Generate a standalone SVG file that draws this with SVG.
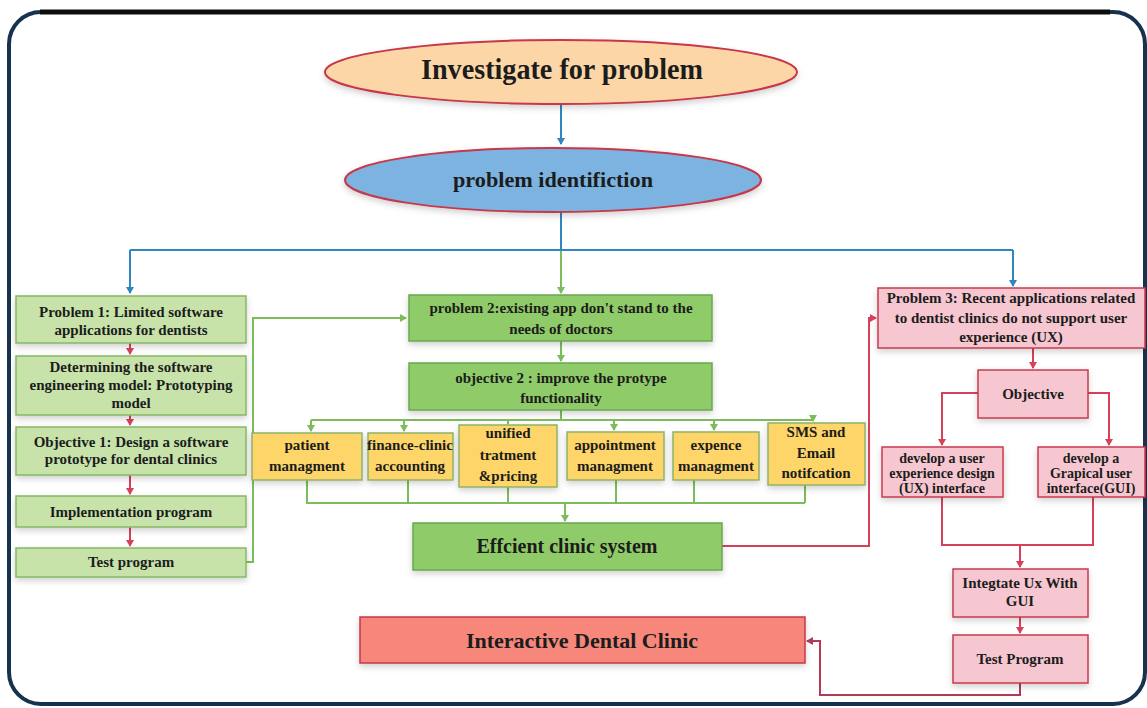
<svg xmlns="http://www.w3.org/2000/svg" width="1147" height="708" viewBox="0 0 1147 708">
<style>
text{font-family:"Liberation Serif","DejaVu Serif",serif;fill:#1c1c1c;text-anchor:middle;font-weight:bold}
.t15{font-size:15px}
.t14{font-size:14px}
.g1{fill:#c7e3aa;stroke:#86b865;stroke-width:1.5}
.g2{fill:#8fcb67;stroke:#6aa84f;stroke-width:1.5}
.y{fill:#fdd567;stroke:#8fb36a;stroke-width:1.5}
.p{fill:#f6c7d0;stroke:#c83a4e;stroke-width:1.5}
.cb{fill:none;stroke:#2f86c0;stroke-width:2}
.cg{fill:none;stroke:#7cbc5a;stroke-width:2}
.cr{fill:none;stroke:#d8405a;stroke-width:2}
.cm{fill:none;stroke:#b23a55;stroke-width:2}
</style>
<defs>
<filter id="sh" x="-10%" y="-10%" width="120%" height="140%"><feDropShadow dx="0" dy="3" stdDeviation="3" flood-color="#000" flood-opacity="0.18"/></filter>
<marker id="ab" markerWidth="8" markerHeight="8" refX="6" refY="4" orient="auto" markerUnits="userSpaceOnUse"><path d="M0,0 L7,4 L0,8 z" fill="#2f86c0"/></marker>
<marker id="ag" markerWidth="8" markerHeight="8" refX="6" refY="4" orient="auto" markerUnits="userSpaceOnUse"><path d="M0,0 L7,4 L0,8 z" fill="#7cbc5a"/></marker>
<marker id="ar" markerWidth="8" markerHeight="8" refX="6" refY="4" orient="auto" markerUnits="userSpaceOnUse"><path d="M0,0 L7,4 L0,8 z" fill="#d8405a"/></marker>
<marker id="am" markerWidth="8" markerHeight="8" refX="6" refY="4" orient="auto" markerUnits="userSpaceOnUse"><path d="M0,0 L7,4 L0,8 z" fill="#b23a55"/></marker>
</defs>
<rect x="0" y="0" width="1147" height="708" fill="#ffffff"/>
<rect id="frame" x="9" y="12" width="1136" height="692" rx="32" fill="#ffffff" stroke="#17324f" stroke-width="4"/>
<line x1="40" y1="12" x2="1110" y2="12" stroke="#0d0d0d" stroke-width="5"/>

<g id="connectors">
<line class="cb" x1="561" y1="104" x2="561" y2="144" marker-end="url(#ab)"/>
<polyline class="cb" points="561,211 561,250"/>
<polyline class="cb" points="130,250 1013,250"/>
<polyline class="cb" points="130,250 130,293" marker-end="url(#ab)"/>
<polyline class="cb" points="1013,250 1013,286" marker-end="url(#ab)"/>
<polyline class="cg" points="561,251 561,293" marker-end="url(#ag)"/>
<line class="cr" x1="130" y1="343" x2="130" y2="354" marker-end="url(#ar)"/>
<line class="cr" x1="130" y1="415" x2="130" y2="425" marker-end="url(#ar)"/>
<line class="cr" x1="130" y1="475" x2="130" y2="494" marker-end="url(#ar)"/>
<line class="cr" x1="130" y1="527" x2="130" y2="546" marker-end="url(#ar)"/>
<polyline class="cg" points="246,562 253,562 253,318 406,318" marker-end="url(#ag)"/>
<line class="cg" x1="561" y1="341" x2="561" y2="361" marker-end="url(#ag)"/>
<polyline class="cg" points="561,410 561,420"/>
<polyline class="cg" points="311,420 813,420"/>
<line class="cg" x1="311" y1="420" x2="311" y2="431" marker-end="url(#ag)"/>
<line class="cg" x1="404" y1="420" x2="404" y2="431" marker-end="url(#ag)"/>
<line class="cg" x1="508" y1="420" x2="508" y2="424"/>
<line class="cg" x1="614" y1="420" x2="614" y2="430" marker-end="url(#ag)"/>
<line class="cg" x1="714" y1="420" x2="714" y2="430" marker-end="url(#ag)"/>
<line class="cg" x1="813" y1="416" x2="813" y2="421" marker-end="url(#ag)"/>
<polyline class="cg" points="307,480 307,503 805,503"/>
<line class="cg" x1="408" y1="480" x2="408" y2="503"/>
<line class="cg" x1="508" y1="487" x2="508" y2="503"/>
<line class="cg" x1="616" y1="480" x2="616" y2="503"/>
<line class="cg" x1="694" y1="480" x2="694" y2="503"/>
<line class="cg" x1="805" y1="485" x2="805" y2="503"/>
<line class="cg" x1="565" y1="503" x2="565" y2="521" marker-end="url(#ag)"/>
<polyline class="cr" points="722,546 869,546 869,318 876,318" marker-end="url(#ar)"/>
<line class="cr" x1="1033" y1="348" x2="1033" y2="368" marker-end="url(#ar)"/>
<polyline class="cr" points="978,393 942,393 942,445" marker-end="url(#ar)"/>
<polyline class="cr" points="1088,393 1109,393 1109,445" marker-end="url(#ar)"/>
<polyline class="cr" points="942,497 942,545 1093,545 1093,497"/>
<line class="cr" x1="1020" y1="545" x2="1020" y2="567" marker-end="url(#ar)"/>
<line class="cr" x1="1020" y1="617" x2="1020" y2="633" marker-end="url(#ar)"/>
<polyline class="cm" points="1020,683 1020,695 820,695 820,641 807,641" marker-end="url(#am)"/>
</g>

<g id="investigate">
<ellipse cx="561" cy="72" rx="236" ry="32" fill="#fcd6a6" stroke="#c8374c" stroke-width="2" filter="url(#sh)"/>
<text x="562" y="79" font-size="30" textLength="282" lengthAdjust="spacingAndGlyphs">Investigate for problem</text>
</g>
<g id="identification">
<ellipse cx="553" cy="180" rx="208" ry="32" fill="#7db3e0" stroke="#c8374c" stroke-width="2" filter="url(#sh)"/>
<text x="553" y="187" font-size="22" textLength="200" lengthAdjust="spacingAndGlyphs">problem identifiction</text>
</g>

<g id="problem1">
<rect class="g1" x="16" y="296" width="230" height="47" filter="url(#sh)"/>
<text class="t15" x="131" y="317">Problem 1: Limited software</text>
<text class="t15" x="131" y="335">applications for dentists</text>
</g>
<g id="model">
<rect class="g1" x="16" y="356" width="230" height="59" filter="url(#sh)"/>
<text class="t15" x="131" y="372">Determining the software</text>
<text class="t15" x="131" y="390">engineering model: Prototyping</text>
<text class="t15" x="131" y="408">model</text>
</g>
<g id="objective1">
<rect class="g1" x="16" y="427" width="230" height="48" filter="url(#sh)"/>
<text class="t15" x="131" y="447">Objective 1: Design a software</text>
<text class="t15" x="131" y="464">prototype for dental clinics</text>
</g>
<g id="implementation">
<rect class="g1" x="16" y="496" width="230" height="31" filter="url(#sh)"/>
<text class="t15" x="131" y="517">Implementation program</text>
</g>
<g id="test1">
<rect class="g1" x="16" y="548" width="230" height="29" filter="url(#sh)"/>
<text class="t15" x="131" y="567">Test program</text>
</g>

<g id="problem2">
<rect class="g2" x="409" y="295" width="303" height="46" filter="url(#sh)"/>
<text class="t15" x="561" y="313">problem 2:existing app don't stand to the</text>
<text class="t15" x="561" y="334">needs of doctors</text>
</g>
<g id="objective2">
<rect class="g2" x="409" y="363" width="303" height="47" filter="url(#sh)"/>
<text class="t15" x="561" y="383">objective 2 : improve the protype</text>
<text class="t15" x="561" y="403">functionality</text>
</g>

<g id="patient">
<rect class="y" x="252" y="433" width="110" height="47" filter="url(#sh)"/>
<text class="t15" x="307" y="450">patient</text>
<text class="t15" x="307" y="471">managment</text>
</g>
<g id="finance">
<rect class="y" x="368" y="433" width="85" height="47" filter="url(#sh)"/>
<text class="t15" x="410" y="450">finance-clinic</text>
<text class="t15" x="410" y="471">accounting</text>
</g>
<g id="unified">
<rect class="y" x="459" y="425" width="98" height="62" filter="url(#sh)"/>
<text class="t15" x="508" y="438">unified</text>
<text class="t15" x="508" y="460">tratment</text>
<text class="t15" x="508" y="481">&amp;pricing</text>
</g>
<g id="appointment">
<rect class="y" x="567" y="432" width="97" height="48" filter="url(#sh)"/>
<text class="t15" x="615" y="450">appointment</text>
<text class="t15" x="615" y="471">managment</text>
</g>
<g id="expence">
<rect class="y" x="673" y="432" width="86" height="48" filter="url(#sh)"/>
<text class="t15" x="716" y="450">expence</text>
<text class="t15" x="716" y="471">managment</text>
</g>
<g id="sms">
<rect class="y" x="768" y="423" width="97" height="62" filter="url(#sh)"/>
<text class="t15" x="816" y="437">SMS and</text>
<text class="t15" x="816" y="458">Email</text>
<text class="t15" x="816" y="478">notifcation</text>
</g>
<g id="efficient">
<rect class="g2" x="413" y="523" width="309" height="47" filter="url(#sh)"/>
<text x="567" y="553" font-size="20">Effcient clinic system</text>
</g>

<g id="problem3">
<rect class="p" x="878" y="288" width="267" height="60" filter="url(#sh)"/>
<text class="t15" x="1011" y="303">Problem 3: Recent applications related</text>
<text class="t15" x="1011" y="323">to dentist clinics do not support user</text>
<text class="t15" x="1011" y="342">experience (UX)</text>
</g>
<g id="objective3">
<rect class="p" x="978" y="370" width="110" height="48" filter="url(#sh)"/>
<text class="t15" x="1033" y="399">Objective</text>
</g>
<g id="ux">
<rect class="p" x="882" y="447" width="121" height="50" filter="url(#sh)"/>
<text class="t14" x="942" y="463">develop a user</text>
<text class="t14" x="942" y="478">experience design</text>
<text class="t14" x="942" y="493">(UX) interface</text>
</g>
<g id="gui">
<rect class="p" x="1038" y="447" width="107" height="50" filter="url(#sh)"/>
<text class="t14" x="1091" y="463">develop a</text>
<text class="t14" x="1091" y="478">Grapical user</text>
<text class="t14" x="1091" y="493">interface(GUI)</text>
</g>
<g id="integrate">
<rect class="p" x="953" y="569" width="135" height="48" filter="url(#sh)"/>
<text class="t15" x="1020" y="588">Integtate  Ux With</text>
<text class="t15" x="1020" y="606">GUI</text>
</g>
<g id="test3">
<rect class="p" x="953" y="635" width="135" height="48" filter="url(#sh)"/>
<text class="t15" x="1020" y="664">Test Program</text>
</g>
<g id="dental">
<rect x="360" y="617" width="445" height="46" fill="#f7877a" stroke="#c8374c" stroke-width="1.5" filter="url(#sh)"/>
<text x="582" y="648" font-size="22">Interactive Dental Clinic</text>
</g>
</svg>
